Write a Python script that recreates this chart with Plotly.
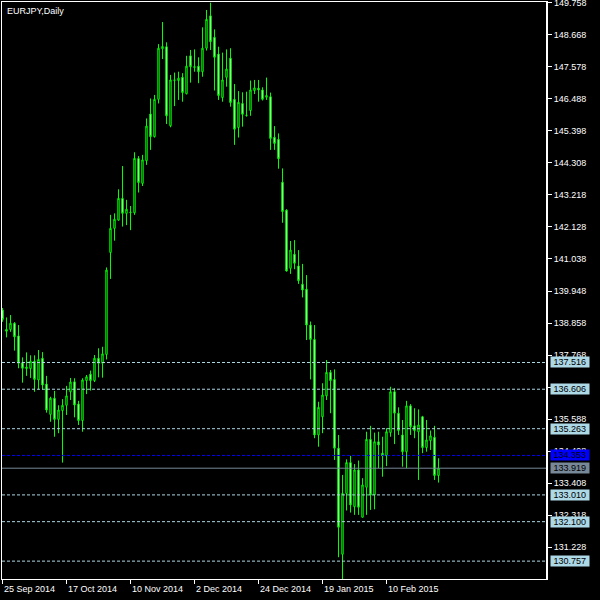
import pandas as pd
import plotly.graph_objects as go

# ---- data (EURJPY daily) ----
opens = [139.30, 138.64, 138.64, 138.85, 138.42, 137.51, 137.31, 137.31, 137.56, 136.92,
         137.66, 136.78, 135.75, 136.30, 135.58, 135.88, 136.06, 136.52, 136.86, 136.10,
         135.54, 136.90, 137.12, 136.90, 137.66, 137.49, 137.79, 141.26, 142.08, 142.36,
         143.10, 142.59, 142.63, 142.61, 144.46, 143.61, 144.38, 145.97, 145.20, 146.47,
         148.19, 148.26, 145.57, 147.13, 147.11, 147.22, 146.66, 147.95, 147.58, 147.60,
         147.41, 148.21, 149.31, 148.58, 148.01, 146.53, 147.22, 147.87, 146.47, 145.51,
         146.33, 145.92, 146.09, 146.77, 146.85, 146.79, 146.54, 146.56, 145.18, 145.11,
         143.65, 142.70, 140.72, 141.20, 140.80, 140.18, 140.01, 138.79, 138.30, 135.05,
         135.67, 136.38, 137.18, 136.94, 134.60, 130.99, 133.06, 134.11, 132.61, 133.86,
         132.25, 133.27, 134.90, 133.01, 134.82, 134.43, 134.34, 135.13, 136.52, 135.79,
         135.05, 134.48, 136.04, 135.36, 135.16, 135.67, 134.62, 134.86, 134.97, 133.67]
highs = [139.37, 139.05, 139.13, 138.89, 138.79, 137.69, 137.86, 137.76, 137.76, 137.94,
         137.87, 137.06, 136.35, 136.55, 136.06, 136.27, 136.72, 136.99, 136.98, 136.21,
         136.98, 137.09, 137.24, 137.77, 138.00, 138.05, 140.75, 142.54, 142.59, 143.41,
         144.20, 143.05, 142.84, 144.67, 144.54, 144.58, 145.82, 146.50, 146.62, 148.35,
         149.10, 148.41, 147.30, 147.38, 147.41, 147.36, 147.95, 148.15, 148.17, 147.90,
         148.92, 149.51, 149.758, 148.85, 148.26, 148.06, 148.17, 148.21, 146.99, 146.75,
         146.71, 146.73, 147.11, 147.13, 147.13, 146.88, 147.21, 146.70, 145.56, 145.31,
         144.12, 142.73, 141.65, 141.68, 141.34, 140.87, 140.49, 138.91, 138.79, 136.18,
         136.81, 137.60, 137.26, 137.28, 135.05, 133.69, 134.22, 134.34, 134.06, 134.18,
         133.58, 135.16, 135.36, 135.13, 135.16, 134.99, 135.28, 136.69, 136.64, 135.99,
         135.56, 136.21, 136.10, 135.96, 135.92, 135.70, 135.56, 135.20, 135.36, 134.26]
lows = [138.90, 138.37, 138.56, 137.92, 137.32, 136.83, 137.06, 136.99, 136.52, 136.60,
        136.60, 135.81, 135.50, 134.99, 135.11, 134.11, 135.73, 136.24, 135.65, 135.39,
        135.16, 136.44, 136.56, 136.85, 137.01, 137.00, 137.62, 140.36, 141.66, 142.34,
        142.14, 142.19, 142.02, 142.54, 143.30, 143.52, 144.24, 144.75, 145.17, 146.33,
        147.84, 145.63, 145.52, 146.24, 146.45, 146.39, 146.64, 147.04, 147.41, 147.02,
        147.24, 148.13, 148.15, 146.77, 146.45, 146.39, 146.90, 146.22, 144.92, 145.17,
        145.54, 145.88, 145.91, 146.65, 146.39, 146.43, 146.45, 144.75, 144.75, 144.11,
        142.27, 140.61, 140.53, 140.69, 140.19, 139.73, 138.28, 136.94, 134.94, 134.65,
        135.11, 136.24, 135.79, 134.20, 130.89, 130.15, 132.48, 132.41, 132.33, 132.33,
        132.25, 132.33, 132.50, 132.52, 133.92, 133.63, 133.99, 134.99, 134.74, 135.05,
        133.97, 133.92, 135.05, 134.94, 133.52, 134.43, 134.48, 134.54, 133.52, 133.43]
closes = [138.98, 138.58, 138.85, 138.39, 137.49, 137.32, 137.36, 137.56, 136.94, 137.62,
          136.75, 135.90, 136.30, 135.58, 135.90, 136.06, 136.38, 136.85, 136.07, 135.54,
          136.92, 137.03, 136.90, 137.66, 137.49, 137.81, 140.66, 142.08, 142.39, 143.10,
          142.59, 142.73, 142.62, 144.46, 143.64, 144.41, 145.56, 145.20, 146.47, 148.21,
          148.27, 145.91, 147.13, 147.12, 147.19, 146.70, 147.60, 147.58, 147.56, 147.41,
          148.21, 149.19, 148.43, 147.90, 146.60, 147.13, 147.50, 146.36, 145.45, 146.37,
          145.96, 145.93, 146.79, 146.86, 146.79, 146.47, 146.60, 145.14, 144.97, 144.45,
          142.65, 140.63, 141.34, 140.89, 140.30, 139.98, 138.79, 138.30, 135.05, 135.99,
          136.41, 137.18, 136.90, 134.60, 131.91, 133.06, 134.11, 132.67, 133.86, 132.59,
          133.35, 134.90, 133.01, 134.82, 134.71, 134.34, 135.16, 136.52, 135.79, 135.20,
          134.48, 136.04, 135.33, 135.20, 135.39, 134.62, 134.88, 135.02, 133.67, 133.92]

dates = [d.strftime("%Y-%m-%d") for d in pd.bdate_range("2014-09-25", "2015-02-27")
         if d.strftime("%Y-%m-%d") not in ("2014-12-25", "2015-01-01")]

tick_dates = ["2014-09-25", "2014-10-17", "2014-11-10", "2014-12-02",
              "2014-12-24", "2015-01-19", "2015-02-10"]
tick_labels = ["25 Sep 2014", "17 Oct 2014", "10 Nov 2014", "2 Dec 2014",
               "24 Dec 2014", "19 Jan 2015", "10 Feb 2015"]

price_ticks = [149.758, 148.668, 147.578, 146.488, 145.398, 144.308, 143.218, 142.128,
               141.038, 139.948, 138.858, 137.768, 136.678, 135.588, 134.498, 133.408,
               132.318, 131.228]

pivot_levels = [137.516, 136.606, 135.263, 133.010, 132.100, 130.757]
main_pivot = 134.353
bid_price = 133.919

title_text = "EURJPY,Daily"

# ---- styles ----
LIME = "#00FF00"
LBLUE = "#ADD8E6"
FONT = "Liberation Sans"

fig = go.Figure()
fig.add_trace(go.Candlestick(
    x=dates, open=opens, high=highs, low=lows, close=closes,
    increasing=dict(line=dict(color=LIME, width=1), fillcolor="#000000"),
    decreasing=dict(line=dict(color=LIME, width=1), fillcolor="#FFFFFF"),
    whiskerwidth=0, showlegend=False, hoverinfo="skip",
))

shapes = []
for lv in pivot_levels:
    shapes.append(dict(type="line", xref="paper", x0=0, x1=1, yref="y", y0=lv, y1=lv,
                       line=dict(color=LBLUE, width=1, dash="3px,2px")))
shapes.append(dict(type="line", xref="paper", x0=0, x1=1, yref="y", y0=main_pivot, y1=main_pivot,
                   line=dict(color="#0000FF", width=1, dash="3px,2px")))
shapes.append(dict(type="line", xref="paper", x0=0, x1=1, yref="y", y0=bid_price, y1=bid_price,
                   line=dict(color="#778899", width=1)))
shapes.append(dict(type="line", xref="paper", x0=1, x1=1, yref="paper", y0=0, y1=1,
                   line=dict(color="#FFFFFF", width=2)))

annotations = []
# top price label (sits at the very edge of the figure, drawn as a text label)
annotations.append(dict(xref="paper", x=1, xanchor="left", xshift=6, yref="y", y=price_ticks[0],
                        yanchor="middle", text=f"{price_ticks[0]:.3f}", showarrow=False,
                        borderpad=0, font=dict(family=FONT, size=9, color="#FFFFFF")))
for lv in pivot_levels:
    annotations.append(dict(xref="paper", x=1, xanchor="left", xshift=3, yref="y", y=lv,
                            yanchor="middle", text=f" {lv:.3f} ", showarrow=False,
                            bgcolor=LBLUE, borderpad=0,
                            font=dict(family=FONT, size=9, color="#000000")))
annotations.append(dict(xref="paper", x=1, xanchor="left", xshift=3, yref="y", y=main_pivot,
                        yanchor="middle", text=f" {main_pivot:.3f} ", showarrow=False,
                        bgcolor="#0000FF", borderpad=0,
                        font=dict(family=FONT, size=9, color="#000000")))
annotations.append(dict(xref="paper", x=1, xanchor="left", xshift=3, yref="y", y=bid_price,
                        yanchor="middle", text=f" {bid_price:.3f} ", showarrow=False,
                        bgcolor="#778899", borderpad=0,
                        font=dict(family=FONT, size=9, color="#000000")))
for td, tl in zip(tick_dates, tick_labels):
    annotations.append(dict(xref="x", x=td, xanchor="left", xshift=-1, yref="paper", y=0,
                            yanchor="top", yshift=-3, text=tl, showarrow=False,
                            font=dict(family=FONT, size=9, color="#FFFFFF")))
annotations.append(dict(xref="paper", x=0, xanchor="left", xshift=3, yref="paper", y=1,
                        yanchor="top", yshift=-2, text=title_text, showarrow=False,
                        font=dict(family=FONT, size=9, color="#FFFFFF")))

fig.update_layout(
    width=600, height=600,
    margin=dict(l=2, r=53, t=2, b=21),
    paper_bgcolor="#000000", plot_bgcolor="#000000",
    boxgap=0.5,
    shapes=shapes, annotations=annotations,
    xaxis=dict(type="category", range=[-0.125, 136.125], rangeslider=dict(visible=False),
               showgrid=False, zeroline=False, showline=True, mirror=True,
               linecolor="#FFFFFF", linewidth=1,
               tickvals=tick_dates, ticks="outside", ticklen=4, tickcolor="#FFFFFF",
               showticklabels=False, fixedrange=True),
    yaxis=dict(side="right", range=[130.149, 149.782], showgrid=False, zeroline=False,
               showline=True, mirror=True, linecolor="#FFFFFF", linewidth=1,
               tickvals=price_ticks,
               ticktext=[""] + [f"{v:.3f}" for v in price_ticks[1:]],
               ticks="outside", ticklen=4, tickcolor="#FFFFFF",
               tickfont=dict(family=FONT, size=9, color="#FFFFFF"), fixedrange=True),
    font=dict(family=FONT, size=9, color="#FFFFFF"),
)

fig.write_html("out.html", config={"displayModeBar": False},
               post_script="document.body.style.margin='0';document.body.style.background='#000';")
